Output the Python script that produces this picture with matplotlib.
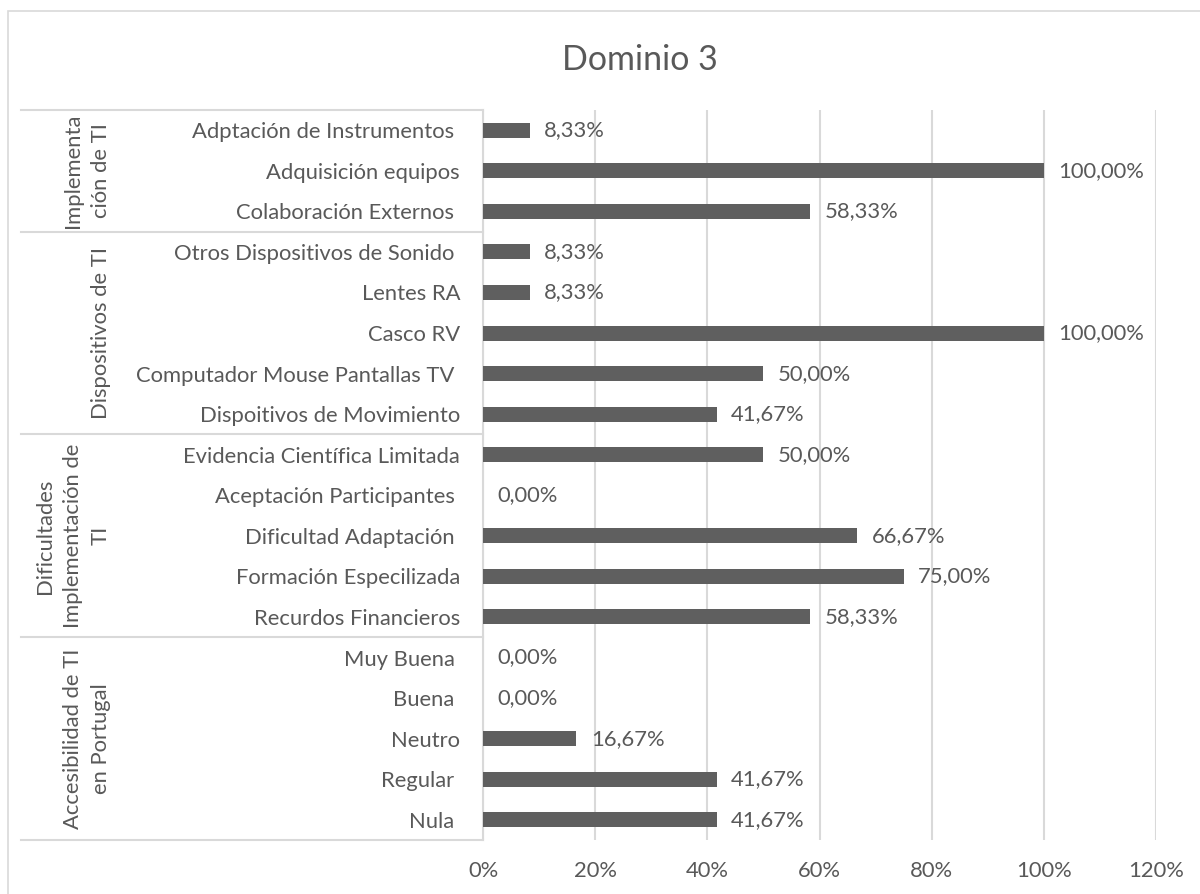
import matplotlib
matplotlib.use("Agg")
import matplotlib.pyplot as plt
import matplotlib.transforms as mtransforms
from matplotlib.patches import Rectangle
import numpy as np

plt.rcParams['font.family'] = ['Lato', 'DejaVu Sans']

# Items, top to bottom
categories = [
    "Adptación de Instrumentos ", "Adquisición equipos", "Colaboración Externos ",
    "Otros Dispositivos de Sonido ", "Lentes RA", "Casco RV",
    "Computador Mouse Pantallas TV ", "Dispoitivos de Movimiento",
    "Evidencia Científica Limitada", "Aceptación Participantes ",
    "Dificultad Adaptación ", "Formación Especilizada", "Recurdos Financieros",
    "Muy Buena ", "Buena ", "Neutro", "Regular ", "Nula ",
]
values = [8.33, 100.0, 58.33,
          8.33, 8.33, 100.0, 50.0, 41.67,
          50.0, 0.0, 66.67, 75.0, 58.33,
          0.0, 0.0, 16.67, 41.67, 41.67]

# Groups: label and number of items in each
groups = ["Implementa\nción de TI", "Dispositivos de TI",
          "Dificultades\nImplementación de\nTI", "Accesibilidad de TI\nen Portugal"]
group_sizes = [3, 5, 5, 5]

xticks = [0, 20, 40, 60, 80, 100, 120]
title = "Dominio 3"

TEXT = "#595959"
BAR = "#5f5f5f"
GRID = "#d9d9d9"
FS = 15.8

W, H = 1200, 894
fig = plt.figure(figsize=(W / 100, H / 100), dpi=100)

# outer chart frame
fig.patches.append(Rectangle((8 / W, -0.02), 1.2, 1 - 11 / H + 0.02,
                             transform=fig.transFigure, fill=False,
                             edgecolor=GRID, linewidth=1.2))

left, right, top, bottom = 483, 1156, 110, 840
ax = fig.add_axes([left / W, 1 - bottom / H, (right - left) / W, (bottom - top) / H])

n = len(categories)
y = np.arange(n)
ax.barh(y, values, height=0.37, color=BAR, zorder=3)

ax.set_xlim(0, 120)
ax.set_ylim(n - 0.5, -0.5)
ax.set_xticks(xticks)
ax.set_xticklabels([f"{t}%" for t in xticks])
ax.set_yticks(y)
ax.set_yticklabels(categories)
ax.tick_params(axis='y', length=0, pad=16.5, labelsize=FS, labelcolor=TEXT)
ax.tick_params(axis='x', length=0, pad=15, labelsize=FS, labelcolor=TEXT)
ax.xaxis.grid(True, color=GRID, linewidth=1.5, zorder=0)
for s in ["top", "right", "bottom"]:
    ax.spines[s].set_visible(False)
ax.spines["left"].set_color(GRID)
ax.spines["left"].set_linewidth(1.5)

for yi, v in zip(y, values):
    ax.annotate(f"{v:.2f}".replace(".", ",") + "%", (v, yi),
                xytext=(10.5, 0), textcoords="offset points",
                va="center", ha="left", fontsize=FS, color=TEXT)

# group separators and labels on the category axis
tr = mtransforms.blended_transform_factory(fig.transFigure, ax.transData)
bounds = np.concatenate([[0], np.cumsum(group_sizes)]) - 0.5
for b in bounds:
    ax.plot([21 / W, left / W], [b, b], transform=tr, color=GRID,
            linewidth=1.5, clip_on=False)
for g, b0, b1 in zip(groups, bounds[:-1], bounds[1:]):
    ax.text(111 / W, (b0 + b1) / 2, g, transform=tr, rotation=90,
            ha="right", va="center", multialignment="center",
            fontsize=FS, color=TEXT, linespacing=1.5)

fig.text(640 / W, 1 - 60 / H, title, ha="center", va="center",
         fontsize=24.5, color=TEXT)

fig.savefig("out.png", dpi=100)
